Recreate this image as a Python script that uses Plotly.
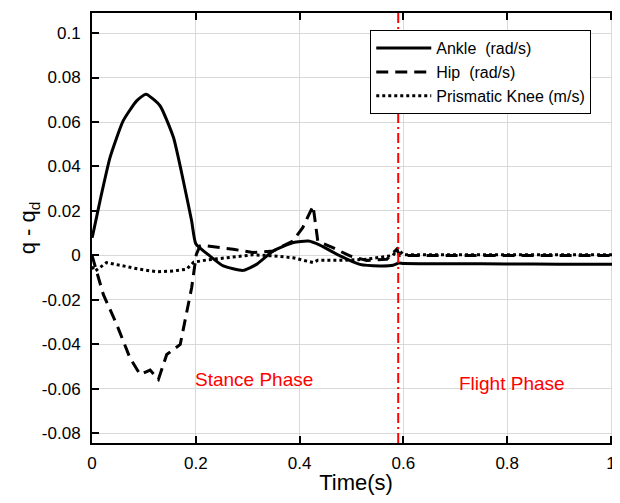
import plotly.graph_objects as go

# ---- data ----
ankle_t = [0.0, 0.0013, 0.0154, 0.0347, 0.060, 0.086, 0.104, 0.131, 0.157, 0.176, 0.192, 0.200,
           0.227, 0.253, 0.291, 0.317, 0.349, 0.388, 0.417, 0.439, 0.478, 0.516, 0.555, 0.580,
           0.591, 0.60, 0.70, 0.80, 0.90, 1.02]
ankle_e = [0.008, 0.009, 0.0245, 0.044, 0.0605, 0.0695, 0.0725, 0.0673, 0.053, 0.0335, 0.0155, 0.0053,
           -0.0002, -0.0047, -0.0067, -0.004, 0.002, 0.0058, 0.0065, 0.0047, -0.0002, -0.004, -0.0047, -0.0044,
           -0.0034, -0.0036, -0.0037, -0.0038, -0.0039, -0.0040]

hip_t = [0.0, 0.0218, 0.0476, 0.073, 0.0925, 0.112, 0.128, 0.144, 0.170, 0.182, 0.192, 0.201,
         0.208, 0.221, 0.272, 0.310, 0.349, 0.387, 0.406, 0.426, 0.430, 0.435, 0.464, 0.497,
         0.529, 0.568, 0.587, 0.593, 0.70, 0.80, 0.90, 1.02]
hip_e = [0.0, -0.0175, -0.031, -0.046, -0.0535, -0.0515, -0.0557, -0.0445, -0.040, -0.0265, -0.0145, 0.0005,
         0.0043, 0.0043, 0.0028, 0.0013, 0.002, 0.0065, 0.0125, 0.0223, 0.0155, 0.0065, 0.0035, -0.0002,
         -0.0022, -0.0017, 0.0028, 0.0, 0.0, 0.0, 0.0, 0.0]

knee_t = [0.0, 0.006, 0.028, 0.060, 0.092, 0.124, 0.156, 0.182, 0.196, 0.222, 0.260, 0.310,
          0.349, 0.387, 0.426, 0.435, 0.478, 0.529, 0.580, 0.589, 0.60, 0.70, 0.80, 0.90, 1.02]
knee_e = [-0.005, -0.007, -0.0032, -0.0047, -0.0062, -0.0073, -0.007, -0.0062, -0.0030, -0.0020, -0.0010, 0.0003,
          -0.0002, -0.0010, -0.0032, -0.0022, -0.0022, -0.0017, 0.0, 0.003, 0.0003, 0.0003, 0.0003, 0.0003, 0.0003]

phase_boundary = 0.59
x_ticks = [0, 0.2, 0.4, 0.6, 0.8, 1.0]
x_ticklabels = ["0", "0.2", "0.4", "0.6", "0.8", "1"]
y_ticks = [0.1, 0.08, 0.06, 0.04, 0.02, 0, -0.02, -0.04, -0.06, -0.08]
y_ticklabels = ["0.1", "0.08", "0.06", "0.04", "0.02", "0", "-0.02", "-0.04", "-0.06", "-0.08"]

FONT = "Liberation Sans, Arial, sans-serif"

fig = go.Figure()
fig.add_trace(go.Scatter(x=ankle_t, y=ankle_e, mode="lines", name="Ankle\u00a0 (rad/s)",
                         line=dict(color="black", width=3, shape="spline", smoothing=0.5)))
fig.add_trace(go.Scatter(x=hip_t, y=hip_e, mode="lines", name="Hip\u00a0 (rad/s)",
                         line=dict(color="black", width=3, dash="12px,7px")))
fig.add_trace(go.Scatter(x=knee_t, y=knee_e, mode="lines", name="Prismatic Knee (m/s)",
                         line=dict(color="black", width=3, dash="3px,3px")))

fig.add_shape(type="line", xref="x", yref="paper", x0=phase_boundary, x1=phase_boundary, y0=0, y1=1,
              line=dict(color="red", width=2, dash="10px,4px,2px,4px"))

fig.add_annotation(x=0.312, y=-0.0556, text="Stance Phase", showarrow=False,
                   font=dict(color="red", size=19, family=FONT))
fig.add_annotation(x=0.809, y=-0.0574, text="Flight Phase", showarrow=False,
                   font=dict(color="red", size=19, family=FONT))

axis_common = dict(showline=True, linecolor="black", linewidth=2, mirror="ticks",
                   ticks="inside", ticklen=7, tickwidth=2, tickcolor="black",
                   showgrid=True, gridcolor="#d9d9d9", gridwidth=1, zeroline=False,
                   automargin=False,
                   tickfont=dict(size=17, family=FONT, color="black"))

fig.update_xaxes(range=[0, 1.0173], tickvals=x_ticks, ticktext=x_ticklabels, ticklabelstandoff=4,
                 title=dict(text="Time(s)", font=dict(size=22, family=FONT, color="black"), standoff=8),
                 **axis_common)
fig.update_yaxes(range=[-0.0843, 0.109], tickvals=y_ticks, ticktext=y_ticklabels, ticklabelstandoff=6,
                 title=dict(text="q - q<sub>d</sub>", font=dict(size=22, family=FONT, color="black"), standoff=0),
                 **axis_common)

fig.update_layout(
    width=612, height=487,
    margin=dict(l=84, r=0, t=5, b=52),
    plot_bgcolor="white", paper_bgcolor="white",
    font=dict(family=FONT, color="black"),
    legend=dict(x=0.527, y=0.96, xanchor="left", yanchor="top",
                bgcolor="white", bordercolor="black", borderwidth=1,
                font=dict(size=16, family=FONT, color="black"),
                tracegroupgap=0, itemwidth=55),
)

fig.write_html("out.html")
